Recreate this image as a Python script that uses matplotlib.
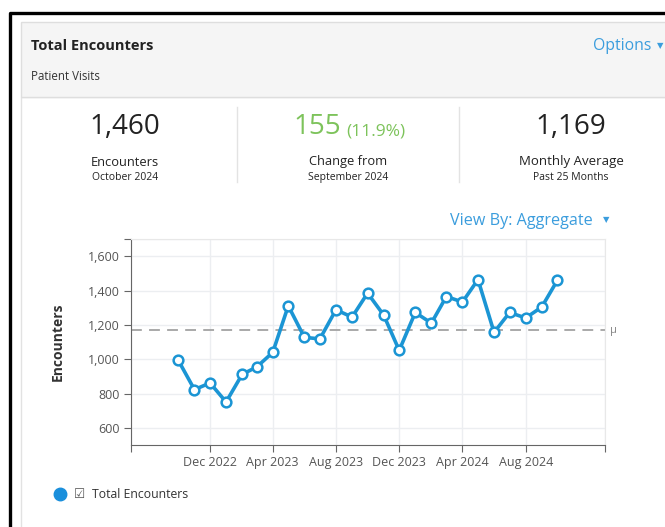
import matplotlib.pyplot as plt
import pandas as pd
from matplotlib.patches import Rectangle
from matplotlib.lines import Line2D
from matplotlib.ticker import FuncFormatter

plt.rcParams['font.family'] = ['Open Sans', 'DejaVu Sans']

# data
months = pd.date_range('2022-10-01', periods=25, freq='MS')
encounters = [993, 823, 862, 751, 912, 955, 1040, 1312, 1128, 1119, 1289, 1246, 1386,
              1258, 1052, 1273, 1211, 1366, 1334, 1465, 1157, 1273, 1241, 1305, 1460]
monthly_avg = 1169
tick_dates = ['2022-12-01', '2023-04-01', '2023-08-01', '2023-12-01', '2024-04-01', '2024-08-01']
tick_labels = ['Dec 2022', 'Apr 2023', 'Aug 2023', 'Dec 2023', 'Apr 2024', 'Aug 2024']
y_ticks = [600, 800, 1000, 1200, 1400, 1600]

BLUE = '#1b95d4'
LINK = '#3b9ddd'
GREEN = '#7dc35b'
DARK = '#222222'

W, H = 665, 527
fig = plt.figure(figsize=(W / 100, H / 100), dpi=100)
fig.patch.set_facecolor('white')


def px(x, y):
    return x / W, 1 - y / H


def rect(x0, y0, x1, y1, **kw):
    fig.add_artist(Rectangle(px(x0, y1), (x1 - x0) / W, (y1 - y0) / H,
                             transform=fig.transFigure, zorder=-2, **kw))


def line(xs, ys, **kw):
    fig.add_artist(Line2D([x / W for x in xs], [1 - y / H for y in ys],
                          transform=fig.transFigure, **kw))


def text(x, y, s, **kw):
    kw.setdefault('va', 'center')
    fig.text(*px(x, y), s, **kw)


# card frame
rect(21, 97, 672, 535, fc='white', ec='#e2e2e2', lw=1)
rect(21, 22, 672, 97, fc='#f5f5f5', ec='#dedede', lw=1)
line([10, 10, 668], [530, 13, 13], color='black', lw=2.4, zorder=-1)

# header
text(31, 46, 'Total Encounters', fontsize=10.5, fontweight='bold', color=DARK)
text(31, 76, 'Patient Visits', fontsize=8.3, color='#333333')
text(651, 46, 'Options', fontsize=11.3, color=LINK, ha='right')
text(660, 46, '\u25BC', fontsize=6, color=LINK, ha='center', family='DejaVu Sans')

# summary numbers
line([237, 237], [107, 182], color='#e3e3e3', lw=1, zorder=-1)
line([459, 459], [107, 182], color='#e3e3e3', lw=1, zorder=-1)

text(125, 127, '1,460', fontsize=20, color=DARK, ha='center')
text(125, 162, 'Encounters', fontsize=9.3, color=DARK, ha='center')
text(125, 177, 'October 2024', fontsize=7.5, color=DARK, ha='center')

text(341, 127, '155', fontsize=20, color=GREEN, ha='right')
text(346, 131, '(11.9%)', fontsize=12.5, color=GREEN, ha='left')
text(348, 162, 'Change from', fontsize=9.3, color=DARK, ha='center')
text(348, 177, 'September 2024', fontsize=7.5, color=DARK, ha='center')

text(571, 127, '1,169', fontsize=20, color=DARK, ha='center')
text(571, 162, 'Monthly Average', fontsize=9.5, color=DARK, ha='center')
text(571, 177, 'Past 25 Months', fontsize=7.5, color=DARK, ha='center')

text(593, 221, 'View By: Aggregate', fontsize=11.6, color=LINK, ha='right')
text(606, 220, '\u25BC', fontsize=6, color=LINK, ha='center', family='DejaVu Sans')

# chart
ax = fig.add_axes([130.7 / W, 1 - 445 / H, 474.3 / W, 205.7 / H])
ax.plot(months, encounters, color=BLUE, lw=2.6, marker='o', ms=7,
        mfc='white', mec=BLUE, mew=1.8, zorder=3)
ax.axhline(monthly_avg, color='#a3a3a3', lw=1.3, ls=(0, (6, 4)), zorder=2)

x0, x1 = pd.Timestamp('2022-07-01'), pd.Timestamp('2025-01-01')
ax.set_xlim(x0, x1)
ax.set_ylim(500, 1700)
ax.set_xticks([x0] + [pd.Timestamp(d) for d in tick_dates] + [x1])
ax.set_xticklabels([''] + tick_labels + [''])
ax.set_yticks(y_ticks + [1700])
ax.yaxis.set_major_formatter(FuncFormatter(lambda v, p: '' if v == 1700 else f'{v:,.0f}'))

ax.grid(color='#eceef1', lw=1)
ax.set_axisbelow(True)
for s in ['top', 'right']:
    ax.spines[s].set_color('#e8e8e8')
for s in ['left', 'bottom']:
    ax.spines[s].set_color('#666666')
ax.tick_params(direction='out', length=5, color='#666666', labelcolor='#555555',
               labelsize=9, pad=3)

text(58, 342, 'Encounters', fontsize=10, fontweight='bold', color='#333333',
     rotation=90, ha='center')
text(610, 331, '\u03bc', fontsize=8, color='#888888', ha='left')

# legend
fig.add_artist(Line2D([60 / W], [1 - 494 / H], marker='o', ms=9, color='#1a8fdc',
                      transform=fig.transFigure))
text(80, 494, '\u2611', fontsize=9, color='#555555', ha='center', family='DejaVu Sans')
text(92, 494, 'Total Encounters', fontsize=8.8, color='#333333', ha='left')

plt.savefig('out.png', dpi=100)
